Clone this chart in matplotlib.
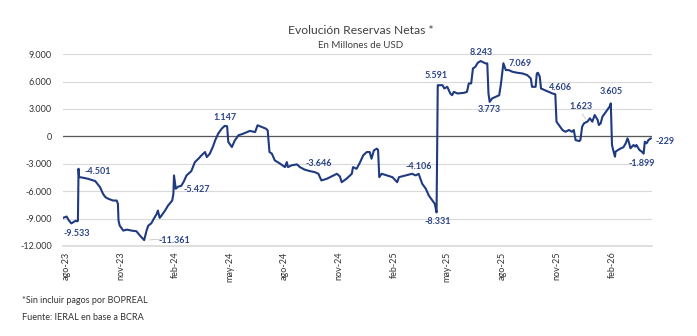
import matplotlib
matplotlib.use("Agg")
import matplotlib.pyplot as plt
import numpy as np
import pandas as pd

plt.rcParams['font.family'] = ['Lato', 'DejaVu Sans']

# serie (millones de USD)
fechas = [
    "2023-07-27", "2023-08-02", "2023-08-06", "2023-08-10", "2023-08-17", "2023-08-20", "2023-08-21",
    "2023-08-22", "2023-08-23", "2023-08-27", "2023-09-07", "2023-09-19", "2023-09-27", "2023-10-02",
    "2023-10-06", "2023-10-11", "2023-10-19", "2023-10-25", "2023-10-27", "2023-10-28", "2023-10-30",
    "2023-11-05", "2023-11-11", "2023-11-19", "2023-11-27", "2023-12-03", "2023-12-08", "2023-12-10",
    "2023-12-14", "2023-12-17", "2023-12-22", "2023-12-27", "2023-12-31", "2024-01-02", "2024-01-05",
    "2024-01-08", "2024-01-14", "2024-01-19", "2024-01-26", "2024-01-28", "2024-01-29", "2024-02-01",
    "2024-02-05", "2024-02-10", "2024-02-14", "2024-02-19", "2024-02-27", "2024-03-04", "2024-03-10",
    "2024-03-15", "2024-03-21", "2024-03-24", "2024-03-29", "2024-04-03", "2024-04-07", "2024-04-12",
    "2024-04-18", "2024-04-23", "2024-04-27", "2024-04-29", "2024-05-05", "2024-05-10", "2024-05-16",
    "2024-05-24", "2024-06-04", "2024-06-13", "2024-06-17", "2024-06-24", "2024-07-01", "2024-07-04",
    "2024-07-07", "2024-07-11", "2024-07-16", "2024-07-25", "2024-08-02", "2024-08-05", "2024-08-07",
    "2024-08-13", "2024-08-22", "2024-08-27", "2024-09-04", "2024-09-13", "2024-09-21", "2024-09-27",
    "2024-10-02", "2024-10-11", "2024-10-19", "2024-10-28", "2024-11-02", "2024-11-05", "2024-11-13",
    "2024-11-22", "2024-11-24", "2024-11-30", "2024-12-06", "2024-12-11", "2024-12-17", "2024-12-22",
    "2024-12-25", "2024-12-29", "2025-01-03", "2025-01-05", "2025-01-07", "2025-01-11", "2025-01-20",
    "2025-01-29", "2025-02-06", "2025-02-09", "2025-02-20", "2025-03-03", "2025-03-09", "2025-03-14",
    "2025-03-17", "2025-03-20", "2025-03-26", "2025-03-31", "2025-04-06", "2025-04-10", "2025-04-13",
    "2025-04-15", "2025-04-17", "2025-04-23", "2025-04-26", "2025-05-01", "2025-05-06", "2025-05-09",
    "2025-05-12", "2025-05-18", "2025-05-29", "2025-06-03", "2025-06-06", "2025-06-10", "2025-06-13",
    "2025-06-17", "2025-06-21", "2025-06-26", "2025-07-04", "2025-07-07", "2025-07-09", "2025-07-11",
    "2025-07-15", "2025-07-21", "2025-07-27", "2025-07-30", "2025-08-03", "2025-08-07", "2025-08-12",
    "2025-08-18", "2025-08-26", "2025-09-04", "2025-09-12", "2025-09-18", "2025-09-20", "2025-09-26",
    "2025-09-28", "2025-09-30", "2025-10-03", "2025-10-05", "2025-10-11", "2025-10-18", "2025-10-24",
    "2025-10-29", "2025-10-31", "2025-11-04", "2025-11-10", "2025-11-15", "2025-11-21", "2025-11-26",
    "2025-11-29", "2025-12-02", "2025-12-08", "2025-12-10", "2025-12-13", "2025-12-16", "2025-12-22",
    "2025-12-26", "2025-12-30", "2026-01-03", "2026-01-08", "2026-01-10", "2026-01-13", "2026-01-16",
    "2026-01-20", "2026-01-24", "2026-01-28", "2026-01-30", "2026-02-01", "2026-02-03", "2026-02-06",
    "2026-02-07", "2026-02-11", "2026-02-16", "2026-02-20", "2026-02-24", "2026-02-27", "2026-03-01",
    "2026-03-04", "2026-03-09", "2026-03-12", "2026-03-14", "2026-03-19", "2026-03-23", "2026-03-26",
    "2026-03-28", "2026-03-31", "2026-04-03", "2026-04-07",
]
reservas = [
    -8930, -8780, -9220, -9533, -9250, -9300, -9250,
    -3550, -4470, -4501, -4650, -4900, -5560, -6290,
    -6660, -6840, -7030, -7030, -7390, -9220, -9770,
    -10320, -10210, -10320, -10390, -10870, -11230, -11361,
    -10320, -9770, -9520, -8930, -8490, -8130, -8930,
    -8680, -8130, -7580, -7030, -6290, -4280, -5740,
    -5500, -5427, -5000, -4280, -3810, -2820, -2450,
    -2090, -1720, -2270, -1900, -1170, -440, 290,
    840, 1147, 1100, -620, -1170, -440, 110,
    290, 590, 470, 1210, 1020, 840, 660,
    -1720, -1900, -2640, -3000, -3370, -2820, -3370,
    -3180, -3070, -3370, -3646, -3810, -3920, -4100,
    -4830, -4650, -4390, -4100, -4390, -5020, -4650,
    -4100, -3370, -3550, -2820, -2090, -1720, -1720,
    -2450, -1540, -1350, -1500, -4470, -4100, -4280,
    -4470, -5020, -4470, -4280, -4100, -4280, -4106,
    -4650, -5200, -5740, -6480, -7030, -7390, -8331,
    5600, 5591, 5600, 5240, 5420, 4690, 4500,
    4870, 4690, 4760, 4870, 5790, 5790, 7430,
    7610, 8050, 8243, 7980, 7980, 4690, 3773,
    4140, 4320, 4500, 5790, 8000, 7250, 7250,
    7069, 6960, 6880, 6700, 6330, 5420, 5420,
    6880, 6960, 6520, 5240, 5060, 4870, 4690,
    4606, 1600, 1240, 690, 500, 690, 500,
    690, -410, -520, -410, 1050, 1420, 1623,
    1970, 1600, 2330, 1790, 1240, 1420, 2150,
    2520, 2880, 3250, 3605, -950, -1500, -2230,
    -1680, -1500, -1310, -1200, -770, -220, -590,
    -1310, -950, -1130, -950, -1500, -1680, -1899,
    -590, -770, -410, -229,
]

# etiquetas de datos: fecha del punto y texto
etq_fechas = ["2023-08-10", "2023-08-27", "2023-12-10", "2024-02-10", "2024-04-23", "2024-09-04",
              "2025-03-14", "2025-04-13", "2025-04-17", "2025-06-26", "2025-07-11", "2025-08-18",
              "2025-10-29", "2025-12-22", "2026-01-30", "2026-03-26", "2026-04-07"]
etq_textos = ["-9.533", "-4.501", "-11.361", "-5.427", "1.147", "-3.646", "-4.106", "-8.331",
              "5.591", "8.243", "3.773", "7.069", "4.606", "1.623", "3.605", "-1.899", "-229"]

ticks = pd.date_range("2023-08-01", "2026-02-01", freq="3MS")
tick_labels = ["ago-23", "nov-23", "feb-24", "may-24", "ago-24", "nov-24",
               "feb-25", "may-25", "ago-25", "nov-25", "feb-26"]

# desplazamiento de cada etiqueta (pt)
offsets = [(4, -7), (12, 4), (22, 0), (11.5, -2.5), (0, 6), (10, 4.5), (0, 5), (0.5, -6.5),
           (-2, 7.3), (0, 6), (0, -5.5), (5.5, 6), (3.6, 4.8), (-4.8, 11), (0, 8.3), (-1, -7.2), (10.3, -2)]

azul = "#1f3a80"
azul_txt = "#2c4588"

fig = plt.figure(figsize=(6.97, 3.36), dpi=100)
ax = fig.add_axes([0.0904, 0.268, 0.845, 0.571])

x = pd.to_datetime(fechas)
ax.plot(x, reservas, color=azul, linewidth=1.5, solid_joinstyle="round")

ax.set_xlim(pd.Timestamp("2023-07-27"), pd.Timestamp("2026-04-09"))
ax.set_ylim(-12000, 9000)
yt = np.arange(-12000, 9001, 3000)
ax.set_yticks(yt)
ax.set_yticklabels([f"{v:,.0f}".replace(",", ".") for v in yt])
ax.set_xticks(ticks)
ax.set_xticklabels(tick_labels, rotation=90)
ax.tick_params(axis="both", length=0, labelsize=6.5, colors="#333333")
ax.tick_params(axis="y", pad=8)
ax.tick_params(axis="x", pad=4)

for s in ["top", "right", "left"]:
    ax.spines[s].set_visible(False)
ax.spines["bottom"].set_color("#d9d9d9")
ax.spines["bottom"].set_linewidth(1.2)
ax.grid(axis="y", color="#d9d9d9", linewidth=0.8)
ax.set_axisbelow(True)
ax.axhline(0, color="#595959", linewidth=0.9, zorder=1)

vals = dict(zip(fechas, reservas))
for f, t, (dx, dy) in zip(etq_fechas, etq_textos, offsets):
    ax.annotate(t, (pd.Timestamp(f), vals[f]), xytext=(dx, dy), textcoords="offset points",
                ha="center", va="center", fontsize=6.5, fontweight="bold", color=azul_txt,
                annotation_clip=False)

# lineas guia de dos etiquetas
ax.annotate("", (pd.Timestamp("2023-12-14"), vals["2023-12-10"]), xytext=(14, 1), textcoords="offset points",
            arrowprops=dict(arrowstyle="-", color="#c8c8c8", lw=0.6))
ax.annotate("", (pd.Timestamp("2025-12-22"), vals["2025-12-22"]), xytext=(-5, 7), textcoords="offset points",
            arrowprops=dict(arrowstyle="-", color="#c8c8c8", lw=0.6))

fig.text(0.517, 0.91, "Evolución Reservas Netas *", ha="center", va="center", fontsize=8.7, color="#404040")
fig.text(0.517, 0.864, "En Millones de USD", ha="center", va="center", fontsize=7, color="#404040")
fig.text(0.032, 0.107, "*Sin incluir pagos por BOPREAL", ha="left", va="center", fontsize=6.5, color="#333333")
fig.text(0.032, 0.054, "Fuente: IERAL en base a BCRA", ha="left", va="center", fontsize=6.5, color="#333333")

fig.savefig("out.png", dpi=100)
